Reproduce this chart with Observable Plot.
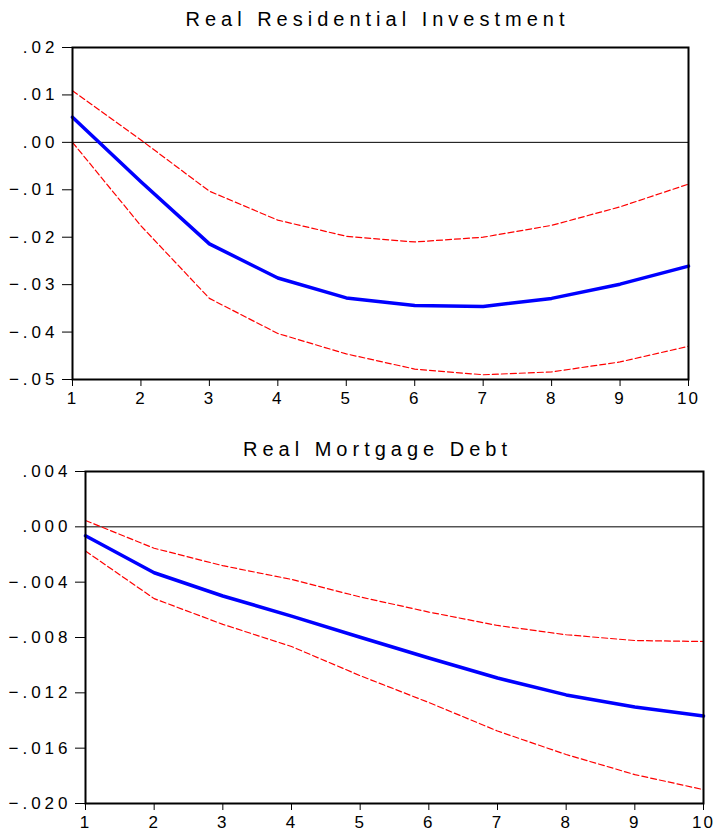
<!DOCTYPE html>
<html>
<head>
<meta charset="utf-8">
<script src="https://cdn.jsdelivr.net/npm/d3@7"></script>
<script src="https://cdn.jsdelivr.net/npm/@observablehq/plot@0.6"></script>
<style>
  html, body { margin: 0; padding: 0; background: #fff; }
  #root { position: relative; width: 715px; height: 834px; font-family: "Liberation Sans", Arial, sans-serif; }
  .ttl { position: absolute; font-size: 20px; line-height: 20px; letter-spacing: 5px; text-align: center; color: #000; white-space: nowrap; }
  .panel { position: absolute; left: 0; }
  .panel g[aria-label^="x-axis"] text { letter-spacing: 2px; }
</style>
</head>
<body>
<div id="root">
  <div class="ttl" id="t1" style="left:175px; width:405px; top:9px;"></div>
  <div class="panel" id="p1" style="top:0px;"></div>
  <div class="ttl" id="t2" style="left:175px; width:405px; top:439px;"></div>
  <div class="panel" id="p2" style="top:430px;"></div>
</div>
<script>
const steps = [1, 2, 3, 4, 5, 6, 7, 8, 9, 10];

const title1 = "Real Residential Investment";
const rriMean  = [0.0053, -0.0083, -0.0214, -0.0286, -0.0328, -0.0344, -0.0346, -0.0329, -0.0299, -0.0261];
const rriUpper = [0.0109, 0.0005, -0.0103, -0.0164, -0.0198, -0.0210, -0.0200, -0.0175, -0.0136, -0.0088];
const rriLower = [0.0000, -0.0176, -0.0329, -0.0403, -0.0446, -0.0478, -0.0490, -0.0484, -0.0463, -0.0430];
const rriTicks = [0.02, 0.01, 0.00, -0.01, -0.02, -0.03, -0.04, -0.05];

const title2 = "Real Mortgage Debt";
const rmdMean  = [-0.00065, -0.00332, -0.00500, -0.00645, -0.00798, -0.00948, -0.01093, -0.01215, -0.01302, -0.01367];
const rmdUpper = [0.00046, -0.00155, -0.00281, -0.00380, -0.00507, -0.00616, -0.00713, -0.00780, -0.00822, -0.00829];
const rmdLower = [-0.00175, -0.00519, -0.00705, -0.00865, -0.01076, -0.01270, -0.01476, -0.01646, -0.01791, -0.01900];
const rmdTicks = [0.004, 0.000, -0.004, -0.008, -0.012, -0.016, -0.020];

function table(mean, upper, lower) {
  return steps.map((s, i) => ({step: s, mean: mean[i], upper: upper[i], lower: lower[i]}));
}

function stripZero(fmt) {
  const f = d3.format(fmt);
  return d => f(Math.abs(d) < 1e-12 ? 0 : d).replace("0.", ".");
}

function panel(data, yTicks, yDomain, fmt, m) {
  return Plot.plot({
    width: 715,
    height: m.height,
    marginLeft: m.left,
    marginRight: m.right,
    marginTop: m.top,
    marginBottom: m.bottom,
    style: {
      fontFamily: '"Liberation Sans", Arial, sans-serif',
      fontSize: "17px",
      letterSpacing: "4px",
      color: "#000",
      background: "transparent",
      overflow: "visible"
    },
    x: {domain: [1, 10], ticks: steps, tickFormat: d => String(d), tickSize: 7, tickPadding: 5, label: null},
    y: {domain: yDomain, ticks: yTicks, tickFormat: stripZero(fmt), tickSize: 10, tickPadding: 4, label: null},
    marks: [
      Plot.ruleY([0], {stroke: "#000", strokeWidth: 1}),
      Plot.line(data, {x: "step", y: "upper", stroke: "#ff0000", strokeWidth: 1.2, strokeDasharray: "6,3"}),
      Plot.line(data, {x: "step", y: "lower", stroke: "#ff0000", strokeWidth: 1.2, strokeDasharray: "6,3"}),
      Plot.line(data, {x: "step", y: "mean", stroke: "#0000ff", strokeWidth: 3.5}),
      Plot.frame({stroke: "#000", strokeWidth: 2})
    ]
  });
}

document.getElementById("t1").textContent = title1;
document.getElementById("t2").textContent = title2;

document.getElementById("p1").appendChild(
  panel(table(rriMean, rriUpper, rriLower), rriTicks, [-0.05, 0.02], ".2f",
        {height: 415, left: 72, right: 27, top: 47, bottom: 36})
);
document.getElementById("p2").appendChild(
  panel(table(rmdMean, rmdUpper, rmdLower), rmdTicks, [-0.020, 0.004], ".3f",
        {height: 404, left: 85, right: 12, top: 41, bottom: 31})
);
</script>
</body>
</html>
